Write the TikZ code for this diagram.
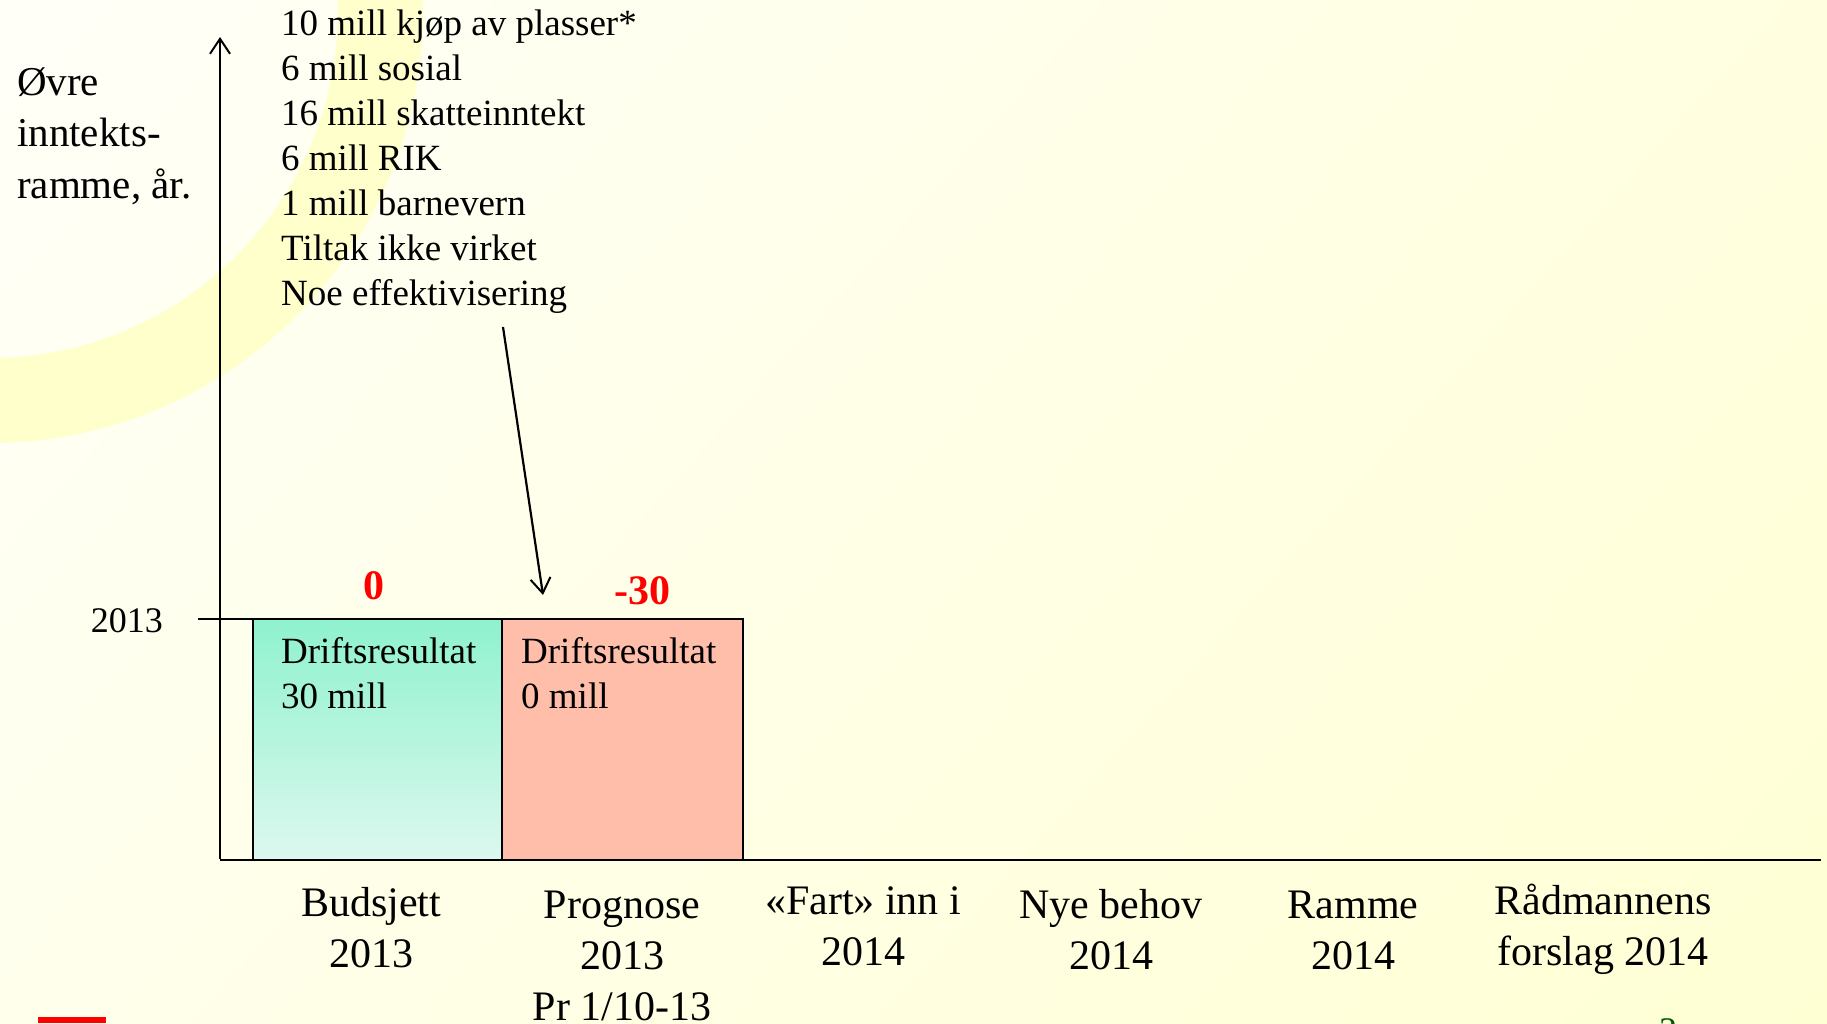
\documentclass[tikz,border=0pt]{standalone}
\usepackage{fontspec}
\setmainfont{Liberation Serif}
\usepackage{tikz}
\usetikzlibrary{arrows.meta,positioning,shadings}

\definecolor{bakgrunnA}{HTML}{FFFFF8}
\definecolor{bakgrunnB}{HTML}{FFFFE0}
\definecolor{bakgrunnC}{HTML}{FFFFEC}
\definecolor{bakgrunnD}{HTML}{FFFFD4}
\definecolor{bue}{HTML}{FFFFCC}
\definecolor{gronnTopp}{HTML}{8FF2CE}
\definecolor{gronnBunn}{HTML}{DDF8EF}
\definecolor{laks}{HTML}{FFBEAA}
\definecolor{sidetall}{HTML}{005A00}

\begin{document}
\begin{tikzpicture}[x=1pt,y=-1pt,
    akse/.style={line width=2.6pt},
    pil/.style={-{Straight Barb[length=15pt,width=20pt,line width=2pt]},line width=2.2pt},
    stolpe/.style={draw=black,line width=2.8pt,minimum height=241pt,inner sep=0pt,outer sep=0pt,anchor=north west},
    liste/.style={font=\fontsize{37}{45}\selectfont,inner sep=0pt,align=left,anchor=base west},
    aar/.style={font=\fontsize{42}{51}\selectfont,inner sep=0pt,align=center,anchor=base},
    resultat/.style={font=\fontsize{42}{50}\selectfont\bfseries,text=red,inner sep=0pt,anchor=base}]
  \useasboundingbox (0,0) rectangle (1827,1023);
  \clip (0,0) rectangle (1827,1023);
  \shade[upper left=bakgrunnA,upper right=bakgrunnB,lower left=bakgrunnC,lower right=bakgrunnD] (0,0) rectangle (1827,1023);
  \fill[bue,even odd rule] (-10,10) circle[radius=433pt] (-10,10) circle[radius=348pt];

  % akser
  \coordinate (origo) at (220,860);
  \coordinate (ytopp) at (220,37);
  \coordinate (xslutt) at (1821,860);
  \draw[akse] (origo) -- (xslutt);
  \draw[akse,pil] ([yshift=1pt]origo) -- (ytopp);
  \coordinate (nivaa) at (198,619);
  \node[font=\fontsize{36}{40}\selectfont,inner sep=0pt,anchor=base east] (nivaa tekst) at (163,632) {2013};

  % stolper
  \node[stolpe,minimum width=249pt,top color=gronnTopp,bottom color=gronnBunn] (budsjett) at (253,619) {};
  \node[stolpe,minimum width=241pt,fill=laks] (prognose) at (budsjett.north east) {};
  \draw[akse] (nivaa) -- (budsjett.north west);
  \node[liste] (budsjett tekst) at ([xshift=28pt,yshift=-89pt]budsjett.north west) {Driftsresultat\\30 mill};
  \node[liste] (prognose tekst) at ([xshift=19pt,yshift=-89pt]prognose.north west) {Driftsresultat\\0 mill};
  \node[resultat] (budsjett avvik) at (374,599) {0};
  \node[resultat] (prognose avvik) at (642,604) {-30};

  % forklaring
  \node[liste] (forklaring) at (281,305) {10 mill kjøp av plasser*\\6 mill sosial\\16 mill skatteinntekt\\6 mill RIK\\1 mill barnevern\\Tiltak ikke virket\\Noe effektivisering};
  \coordinate (pilstart) at (503,327);
  \coordinate (pilslutt) at (543,595);
  \draw[pil] (pilstart) -- (pilslutt);
  \node[font=\fontsize{41}{51.5}\selectfont,inner sep=0pt,align=left,anchor=base west] (ramme) at (17,198) {Øvre\\inntekts-\\ramme, år.};

  % kolonner
  \node[aar] (budsjett aar) at (371,967) {Budsjett\\2013};
  \node[aar] (prognose aar) at (622,1020) {Prognose\\2013\\Pr 1/10-13};
  \node[aar] (fart aar) at (863,965) {«Fart» inn i\\2014};
  \node[aar] (behov aar) at (1111,969) {Nye behov\\2014};
  \node[aar] (ramme aar) at (1353,969) {Ramme\\2014};
  \node[aar] (forslag aar) at (1603,965) {Rådmannens\\forslag 2014};

  \fill[red] (38,1017) rectangle (106,1023);
  \node[font=\fontsize{36}{40}\selectfont,text=sidetall,inner sep=0pt,anchor=north] (side) at (1668,1018) {3};
\end{tikzpicture}
\end{document}
